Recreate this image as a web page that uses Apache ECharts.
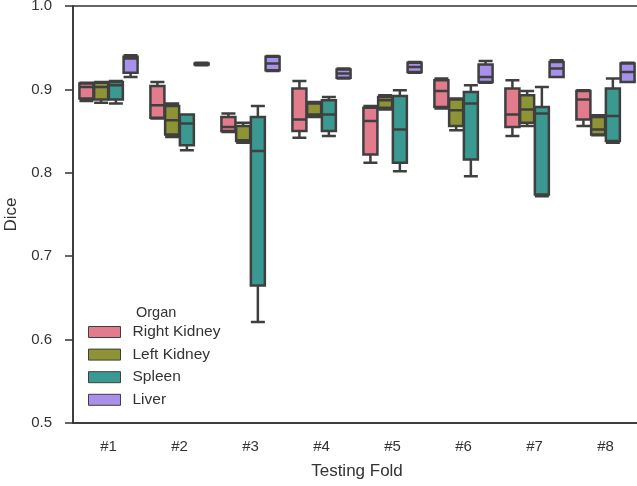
<!DOCTYPE html>
<html lang="en">
<head>
    <meta charset="UTF-8">
    <title>Dice per testing fold</title>
    <script src="https://cdn.jsdelivr.net/npm/echarts@6/dist/echarts.min.js"></script>
    <style>
        html, body { margin: 0; padding: 0; background: #fff; }
    </style>
</head>
<body>
<div id="main" style="width: 637px;height:486px;"></div>

<script type="text/javascript">
    // folds on the x axis
    var folds = ['#1', '#2', '#3', '#4', '#5', '#6', '#7', '#8'];
    var organs = ['Right Kidney', 'Left Kidney', 'Spleen', 'Liver'];
    var yTicks = [0.5, 0.6, 0.7, 0.8, 0.9, 1.0];

    // each box: [min, Q1, median, Q3, max]
    var rightKidney = [
        [0.886, 0.889, 0.903, 0.907, 0.908],
        [0.865, 0.866, 0.881, 0.904, 0.909],
        [0.849, 0.850, 0.855, 0.867, 0.871],
        [0.842, 0.850, 0.864, 0.901, 0.910],
        [0.812, 0.822, 0.862, 0.878, 0.880],
        [0.877, 0.879, 0.898, 0.911, 0.913],
        [0.844, 0.855, 0.870, 0.901, 0.911],
        [0.856, 0.864, 0.888, 0.898, 0.899]
    ];
    var leftKidney = [
        [0.884, 0.888, 0.903, 0.908, 0.909],
        [0.843, 0.846, 0.863, 0.880, 0.883],
        [0.836, 0.838, 0.839, 0.856, 0.860],
        [0.867, 0.868, 0.870, 0.883, 0.885],
        [0.876, 0.878, 0.887, 0.891, 0.893],
        [0.851, 0.856, 0.875, 0.888, 0.889],
        [0.856, 0.860, 0.876, 0.893, 0.898],
        [0.845, 0.846, 0.852, 0.867, 0.869]
    ];
    var spleen = [
        [0.883, 0.888, 0.905, 0.909, 0.910],
        [0.827, 0.833, 0.859, 0.870, 0.870],
        [0.621, 0.665, 0.826, 0.867, 0.880],
        [0.844, 0.850, 0.870, 0.887, 0.891],
        [0.802, 0.812, 0.852, 0.892, 0.899],
        [0.796, 0.816, 0.883, 0.897, 0.905],
        [0.772, 0.774, 0.871, 0.879, 0.903],
        [0.836, 0.838, 0.868, 0.901, 0.913]
    ];
    var liver = [
        [0.915, 0.920, 0.937, 0.939, 0.941],
        [0.929, 0.930, 0.9305, 0.931, 0.932],
        [0.922, 0.923, 0.931, 0.939, 0.940],
        [0.913, 0.914, 0.919, 0.924, 0.925],
        [0.920, 0.921, 0.927, 0.932, 0.933],
        [0.908, 0.909, 0.915, 0.930, 0.934],
        [0.915, 0.915, 0.925, 0.933, 0.935],
        [0.909, 0.909, 0.921, 0.931, 0.932]
    ];

    var colors = ['#e27c8c', '#8e9436', '#3a9990', '#a891ea'];
    var edge = '#3f3f3f';
    var font = 'Liberation Sans, Arial, sans-serif';

    var myChart = echarts.init(document.getElementById('main'));

    var allData = [rightKidney, leftKidney, spleen, liver];
    var series = organs.map(function (name, i) {
        return {
            name: name,
            type: 'boxplot',
            boxWidth: [14, 14],
            data: allData[i],
            itemStyle: {
                color: colors[i],
                borderColor: edge,
                borderWidth: 2.5
            },
            emphasis: { disabled: true },
            silent: true
        };
    });

    // legend swatches keep the fill colour, thin dark edge
    var legendData = organs.map(function (name, i) {
        return {
            name: name,
            icon: 'rect',
            itemStyle: { color: colors[i], borderColor: edge, borderWidth: 1 }
        };
    });

    myChart.setOption({
        animation: false,
        title: {
            text: 'Organ',
            left: 131,
            top: 300,
            textStyle: { fontFamily: font, fontSize: 14.5, fontWeight: 'normal', color: '#333' }
        },
        legend: {
            data: legendData,
            orient: 'vertical',
            left: 88,
            top: 324,
            padding: 0,
            itemWidth: 32,
            itemHeight: 11,
            itemGap: 6.6,
            textStyle: { fontFamily: font, fontSize: 15.5, lineHeight: 16, color: '#333', padding: [0, 0, 0, 7] }
        },
        grid: {
            left: 73,
            top: 6,
            width: 568,
            height: 417,
            outerBoundsMode: 'none',
            show: true,
            borderColor: '#333',
            borderWidth: 1.5
        },
        xAxis: {
            type: 'category',
            data: folds,
            name: 'Testing Fold',
            nameLocation: 'middle',
            nameGap: 40,
            nameTextStyle: { fontFamily: font, fontSize: 17, color: '#333' },
            axisLine: { lineStyle: { color: '#333', width: 1.5 } },
            axisTick: { alignWithLabel: true, length: 8, lineStyle: { color: '#333', width: 1.5 } },
            axisLabel: { margin: 16, fontFamily: font, fontSize: 15, color: '#333' },
            splitLine: { show: false }
        },
        yAxis: {
            type: 'value',
            min: yTicks[0],
            max: yTicks[yTicks.length - 1],
            interval: 0.1,
            name: 'Dice',
            nameLocation: 'middle',
            nameGap: 48,
            nameTextStyle: { fontFamily: font, fontSize: 17, color: '#333' },
            axisLine: { show: true, lineStyle: { color: '#333', width: 1.5 } },
            axisTick: { show: true, length: 8, lineStyle: { color: '#333', width: 1.5 } },
            axisLabel: {
                margin: 21,
                fontFamily: font,
                fontSize: 15,
                color: '#333',
                formatter: function (v) { return v.toFixed(1); }
            },
            splitLine: { show: false }
        },
        series: series
    });
</script>
</body>
</html>
